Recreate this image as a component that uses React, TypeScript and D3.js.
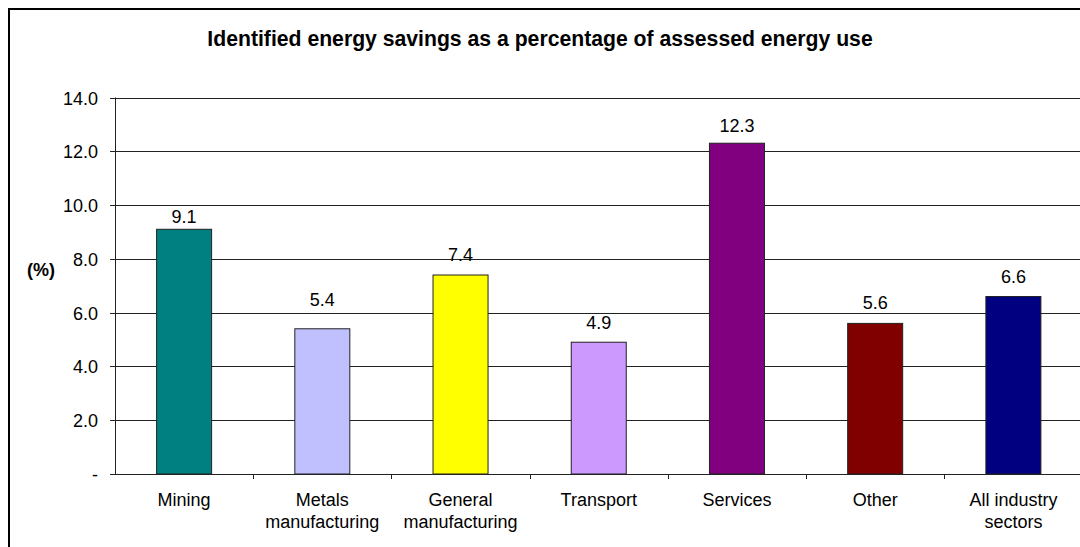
import React from "react";
import * as d3 from "d3";

const categories = ["Mining", "Metals\nmanufacturing", "General\nmanufacturing", "Transport", "Services", "Other", "All industry\nsectors"];
const values = [9.1, 5.4, 7.4, 4.9, 12.3, 5.6, 6.6];
const colors = ["#008080", "#C0C0FF", "#FFFF00", "#CC99FF", "#800080", "#800000", "#000080"];
const yTicks = [0, 2, 4, 6, 8, 10, 12, 14];
const title = "Identified energy savings as a percentage of assessed energy use";
const yLabel = "(%)";
// vertical gap (px) between bar top and its value label baseline, as laid out in the original
const labelGap = [6, 23, 14, 13, 11, 14, 13.5];

export default function App() {
  const W = 1080, H = 547;
  const left = 115, right = 1082.5, top = 97.5, bottom = 474;
  const x = d3.scaleBand<string>().domain(categories).range([left, right]).padding(0);
  const y = d3.scaleLinear().domain([0, 14]).range([bottom, top]);
  const bw = x.bandwidth() * 0.398;
  const font = "Arial, 'Liberation Sans', sans-serif";
  return (
    <svg width={W} height={H} style={{ position: "absolute", left: 0, top: 0, display: "block" }} fontFamily={font}>
      <rect x={0} y={0} width={W} height={H} fill="#fff" />
      <rect x={9} y={9} width={W + 20} height={H + 20} fill="none" stroke="#000" strokeWidth={2} />
      <text x={540} y={46} textAnchor="middle" fontWeight="bold" fontSize={21.2} fill="#000">{title}</text>
      <text x={41} y={276} textAnchor="middle" fontWeight="bold" fontSize={18} fill="#000">{yLabel}</text>
      {yTicks.map((t) => (
        <g key={t}>
          {t > 0 && <line x1={left} x2={W} y1={Math.round(y(t)) + 0.5} y2={Math.round(y(t)) + 0.5} stroke="#222" strokeWidth={1} />}
          <line x1={left - 5} x2={left} y1={Math.round(y(t)) + 0.5} y2={Math.round(y(t)) + 0.5} stroke="#222" />
          <text x={98} y={y(t) + 7} textAnchor="end" fontSize={18} fill="#000">{t === 0 ? "-" : t.toFixed(1)}</text>
        </g>
      ))}
      {categories.map((c, i) => {
        const cx = (x(c) as number) + x.bandwidth() / 2;
        const lines = c.split("\n");
        return (
          <g key={c}>
            <rect x={cx - bw / 2} y={y(values[i])} width={bw} height={bottom - y(values[i])} fill={colors[i]} stroke="#222" strokeWidth={1} />
            <text x={cx} y={y(values[i]) - labelGap[i]} textAnchor="middle" fontSize={18} fill="#000">{values[i].toFixed(1)}</text>
            {lines.map((l, j) => (
              <text key={j} x={cx} y={506 + j * 22} textAnchor="middle" fontSize={18} fill="#000">{l}</text>
            ))}
          </g>
        );
      })}
      {categories.map((c, i) => i > 0 && (
        <line key={"t" + i} x1={Math.round(x(c) as number) + 0.5} x2={Math.round(x(c) as number) + 0.5} y1={bottom} y2={bottom + 5} stroke="#222" />
      ))}
      <line x1={left + 0.5} x2={left + 0.5} y1={top} y2={bottom} stroke="#222" />
      <line x1={left} x2={W} y1={bottom + 0.5} y2={bottom + 0.5} stroke="#222" />
    </svg>
  );
}
